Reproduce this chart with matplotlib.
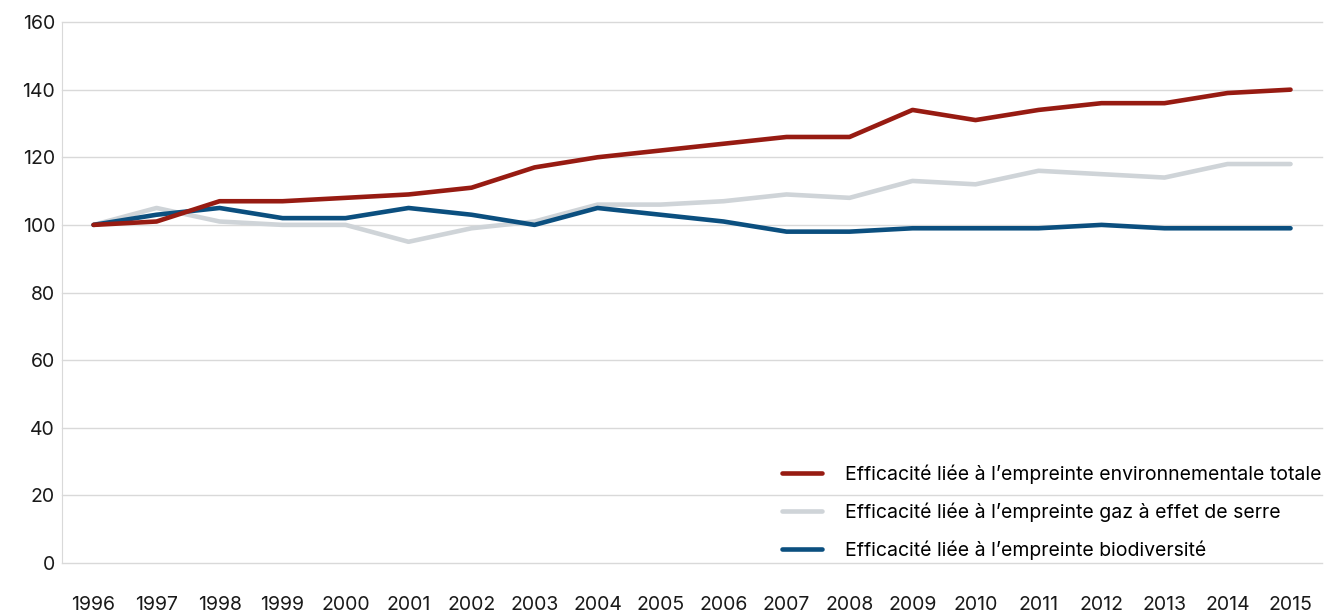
import matplotlib.pyplot as plt
import numpy as np

years = [str(y) for y in range(1996, 2016)]
total = [100, 101, 107, 107, 108, 109, 111, 117, 120, 122, 124, 126, 126, 134, 131, 134, 136, 136, 139, 140]
ghg = [100, 105, 101, 100, 100, 95, 99, 101, 106, 106, 107, 109, 108, 113, 112, 116, 115, 114, 118, 118]
biodiv = [100, 103, 105, 102, 102, 105, 103, 100, 105, 103, 101, 98, 98, 99, 99, 99, 100, 99, 99, 99]

labels = ["Efficacité liée à l\u2019empreinte environnementale totale",
          "Efficacité liée à l\u2019empreinte gaz à effet de serre",
          "Efficacité liée à l\u2019empreinte biodiversité"]
colors = ["#971b12", "#cfd4d8", "#0b4f7f"]

plt.rcParams['font.family'] = ['Inter', 'DejaVu Sans']

fig = plt.figure(figsize=(13.37, 6.12), dpi=100)
ax = fig.add_axes([0.0464, 0.0801, 0.9424, 0.8839])

x = np.arange(len(years))
l2, = ax.plot(x, ghg, color=colors[1], lw=3.3, solid_capstyle='round', zorder=3)
l3, = ax.plot(x, biodiv, color=colors[2], lw=3.3, solid_capstyle='round', zorder=4)
l1, = ax.plot(x, total, color=colors[0], lw=3.3, solid_capstyle='round', zorder=5)

ax.set_xlim(-0.5, len(years) - 0.5)
ax.set_ylim(0, 160)
ax.set_yticks(np.arange(0, 161, 20))
ax.set_xticks(x)
ax.set_xticklabels(years)
ax.grid(axis='y', color='#d9d9d9', lw=1)
for gl in ax.get_ygridlines():
    gl.set_clip_on(False)
ax.set_axisbelow(True)
for s in ['top', 'right', 'bottom']:
    ax.spines[s].set_visible(False)
ax.spines['left'].set_color('#d9d9d9')
ax.tick_params(axis='both', length=0, labelsize=14, colors='#1a1a1a')
ax.tick_params(axis='x', pad=24)
ax.tick_params(axis='y', pad=5)

ax.legend([l1, l2, l3], labels, loc='lower right', bbox_to_anchor=(1.006, -0.009),
          frameon=False, fontsize=14, handlelength=2.05, handletextpad=1.2,
          labelspacing=0.95, borderaxespad=0)

fig.savefig('out.png', dpi=100)
